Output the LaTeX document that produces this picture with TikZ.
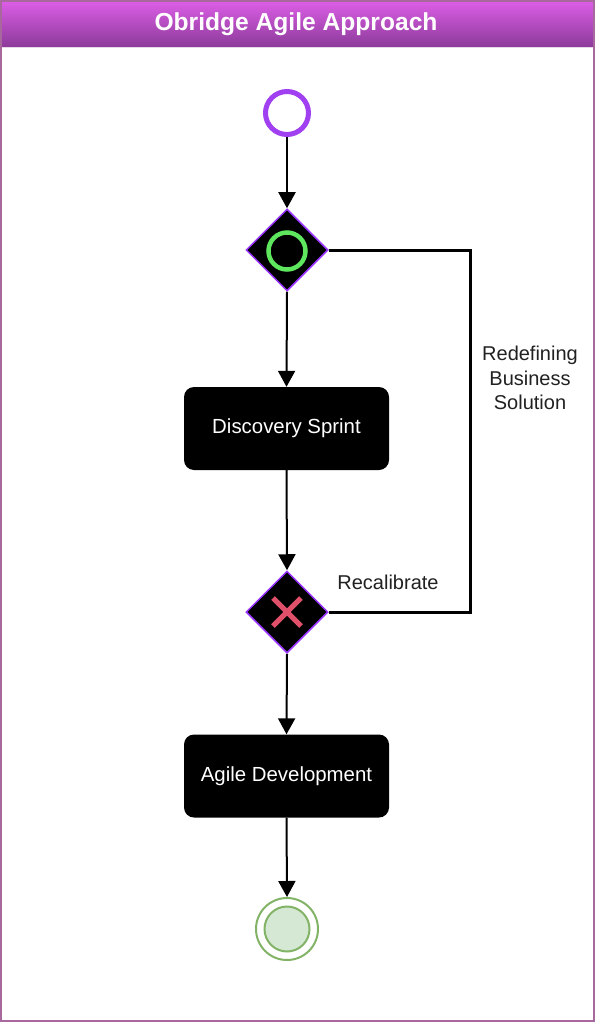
\documentclass[tikz,border=0pt]{standalone}
\usepackage{fontspec}
\setmainfont{Liberation Sans}
\usetikzlibrary{shapes.geometric,arrows.meta,calc}
\definecolor{frameC}{HTML}{A8689E}
\definecolor{hdrTop}{HTML}{DC5EE6}
\definecolor{hdrBot}{HTML}{8A3A98}
\definecolor{startC}{HTML}{A040F0}
\definecolor{gwBorder}{HTML}{9933FF}
\definecolor{gwGreen}{HTML}{5EE65E}
\definecolor{gwRed}{HTML}{E0506A}
\definecolor{endStroke}{HTML}{82B366}
\definecolor{endFill}{HTML}{D5E8D4}
\tikzset{
  flow/.style={line width=2pt, -{Triangle[width=17pt,length=16pt]}},
  loopline/.style={line width=3pt},
  gateway/.style={diamond, aspect=1, draw=gwBorder, fill=black, line width=1.5pt, minimum size=82pt, inner sep=0pt},
  taskbox/.style={rectangle, rounded corners=10pt, fill=black, text=white, minimum width=205pt, minimum height=83pt, font=\fontsize{20.4}{24}\selectfont},
  lbl/.style={align=center, font=\fontsize{20}{24.5}\selectfont, text=black!87}
}
\begin{document}
\begin{tikzpicture}[x=1pt,y=-1pt]
\useasboundingbox (0,0) rectangle (596,1024);
\fill[white] (0,0) rectangle (596,1024);
% header
\shade[top color=hdrTop, bottom color=hdrBot] (1,1) rectangle (594,48);
\draw[white!80!hdrBot, line width=1pt] (1,48) -- (594,48);
\node[text=white, font=\bfseries\fontsize{24.6}{28}\selectfont] (title) at (296,24) {Obridge Agile Approach};
\draw[frameC, line width=2pt] (1,1) rectangle (594,1021);
% start
\node[circle, draw=startC, line width=5pt, fill=white, minimum size=43pt, inner sep=0pt] (start) at (287,113) {};
% gateway 1
\node[gateway] (g1) at (287,250) {};
\node[circle, draw=gwGreen, line width=4.5pt, minimum size=37pt, inner sep=0pt] (g1mark) at (287,251) {};
% task 1
\node[taskbox] (t1) at (286.5,428.5) {Discovery Sprint};
% gateway 2
\node[gateway] (g2) at (287,612) {};
\draw[gwRed, line width=5pt] ($(g2)+(-14,-14)$) -- ($(g2)+(14,14)$);
\draw[gwRed, line width=5pt] ($(g2)+(-14,14)$) -- ($(g2)+(14,-14)$);
% task 2
\node[taskbox] (t2) at (286.5,776) {Agile Development};
% end
\node[circle, draw=endStroke, line width=2pt, fill=white, minimum size=62pt, inner sep=0pt] (endo) at (287,929) {};
\node[circle, draw=endStroke, line width=2pt, fill=endFill, minimum size=45pt, inner sep=0pt] (endi) at (287,929) {};
% connectors
\draw[flow] (start) -- (g1.north);
\draw[flow] (g1.south) -- (t1.north);
\draw[flow] (t1.south) -- (g2.north);
\draw[flow] (g2.south) -- (t2.north);
\draw[flow] (t2.south) -- (endo.north);
\coordinate (loopx) at (470,0);
\draw[loopline] (g1.east) -- (g1.east -| loopx) -- (g2.east -| loopx) -- (g2.east);
% labels
\node[lbl] (lblA) at (530,378) {Redefining\\Business\\Solution};
\node[lbl] (lblB) at (388,582) {Recalibrate};
\end{tikzpicture}
\end{document}
